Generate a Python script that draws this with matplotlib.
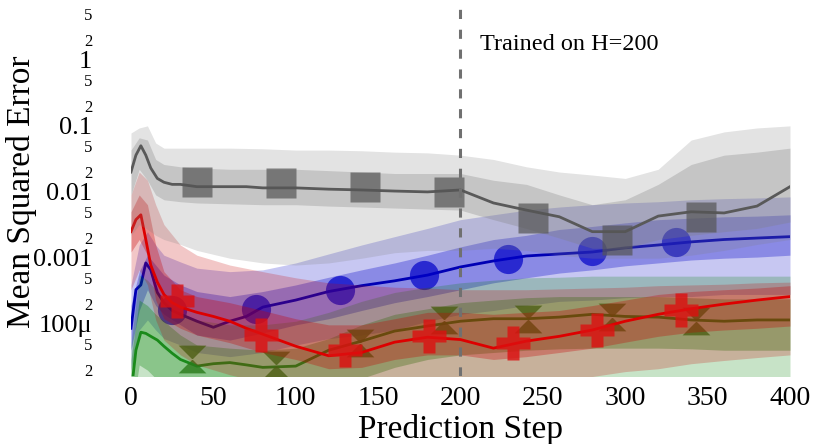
import numpy as np
import matplotlib
matplotlib.use("Agg")
import matplotlib.pyplot as plt
from matplotlib.ticker import FixedLocator, FixedFormatter

plt.rcParams['font.family'] = ['Liberation Serif', 'DejaVu Serif']

STEPS = [0, 3, 6, 9, 12, 16, 20, 25, 30, 40, 50, 60, 70, 80, 100, 120, 140, 160, 180,
         200, 220, 240, 260, 280, 300, 320, 340, 360, 380, 400]
BAND_STEPS = [0, 5, 10, 15, 20, 30, 40, 60, 80, 100, 120, 140, 160, 180, 200, 220, 240,
              260, 280, 300, 320, 340, 360, 380, 400]

# gray series
gray_mean = [0.020, 0.036, 0.050, 0.036, 0.023, 0.016, 0.014, 0.013, 0.013, 0.012, 0.012,
             0.012, 0.012, 0.0115, 0.0115, 0.011, 0.0107, 0.0103, 0.010, 0.0107, 0.0068,
             0.0053, 0.0042, 0.0025, 0.0025, 0.0043, 0.0050, 0.0048, 0.0061, 0.012]
gray_outer_hi = [0.078, 0.093, 0.100, 0.055, 0.046, 0.046, 0.046, 0.046, 0.045, 0.043, 0.043,
                 0.042, 0.040, 0.039, 0.036, 0.031, 0.024, 0.020, 0.018, 0.016, 0.022, 0.061,
                 0.081, 0.093, 0.10]
gray_outer_lo = [0.0022, 0.0032, 0.0027, 0.0022, 0.0019, 0.0016, 0.0013, 0.00099, 0.00084,
                 0.00078, 0.00084, 0.00099, 0.0012, 0.0013, 0.0013, 0.0014, 0.0013, 0.0011,
                 0.00099, 0.00099, 0.00099, 0.0011, 0.0013, 0.0016, 0.0019]
gray_inner_hi = [0.043, 0.066, 0.061, 0.031, 0.026, 0.024, 0.023, 0.022, 0.022, 0.022, 0.021,
                 0.020, 0.019, 0.019, 0.019, 0.015, 0.013, 0.009, 0.0064, 0.0076, 0.013, 0.026,
                 0.036, 0.040, 0.046]
gray_inner_lo = [0.0090, 0.022, 0.015, 0.0090, 0.0076, 0.0071, 0.0068, 0.0066, 0.0064, 0.0064,
                 0.0061, 0.0059, 0.0057, 0.0055, 0.0053, 0.0038, 0.0028, 0.0020, 0.0014, 0.0014,
                 0.0019, 0.0022, 0.0025, 0.0028, 0.0035]
gray_mark_steps = [40, 91, 142, 193, 244, 295, 346]
gray_marks = [0.014, 0.0137, 0.012, 0.010, 0.004, 0.0019, 0.0042]

# blue series
blue_mean = [0.000086, 0.00033, 0.00039, 0.00084, 0.00066, 0.00030, 0.00021, 0.00016, 0.00014,
             0.00011, 0.000089, 0.00011, 0.00013, 0.00018, 0.00023, 0.00031, 0.00038, 0.00045,
             0.00055, 0.00073, 0.00090, 0.00107, 0.00115, 0.00123, 0.00142, 0.00157, 0.00175,
             0.0019, 0.0020, 0.0021]
blue_outer_hi = [0.00039, 0.00157, 0.0025, 0.00157, 0.0011, 0.00087, 0.0007, 0.00062, 0.00066,
                 0.00084, 0.00115, 0.00157, 0.0021, 0.0028, 0.0038, 0.0045, 0.0053, 0.0059,
                 0.0064, 0.0068, 0.0071, 0.0076, 0.0079, 0.0081, 0.0084]
blue_outer_lo = [0.00002, 0.000081, 0.000115, 0.000081, 0.00006, 0.000048, 0.000037, 0.000032,
                 0.000037, 0.000048, 0.00006, 0.000068, 0.000081, 0.00011, 0.00014, 0.00016,
                 0.00019, 0.00022, 0.00023, 0.00025, 0.00026, 0.00026, 0.00028, 0.00028, 0.00028]
blue_inner_hi = [0.00019, 0.00062, 0.0011, 0.00078, 0.00055, 0.00039, 0.00031, 0.00026, 0.00031,
                 0.00039, 0.00051, 0.00066, 0.00084, 0.0011, 0.00147, 0.0019, 0.0022, 0.0027,
                 0.0030, 0.0034, 0.0038, 0.0040, 0.0042, 0.0043, 0.0045]
blue_inner_lo = [0.00004, 0.00016, 0.00033, 0.00019, 0.00014, 0.000097, 0.000068, 0.000057,
                 0.000073, 0.000097, 0.00012, 0.00016, 0.00021, 0.00026, 0.00033, 0.00042,
                 0.0005, 0.00059, 0.00066, 0.00076, 0.00084, 0.00093, 0.00099, 0.00103, 0.0011]
blue_mark_steps = [25, 76, 127, 178, 229, 280, 331]
blue_marks = [0.00016, 0.00017, 0.00033, 0.00055, 0.00097, 0.00128, 0.00175]

# red series
red_mean = [0.0025, 0.0038, 0.0045, 0.0019, 0.00078, 0.00043, 0.00028, 0.00021, 0.00018,
            0.00015, 0.00013, 0.00011, 0.000086, 0.00007, 0.000046, 0.000033, 0.000037,
            0.000053, 0.000063, 0.000058, 0.000043, 0.000055, 0.000065, 0.000081, 0.00011,
            0.00014, 0.00017, 0.0002, 0.00023, 0.00026]
red_outer_hi = [0.009, 0.020, 0.015, 0.0064, 0.0032, 0.00157, 0.0011, 0.00078, 0.00062, 0.0005,
                0.00042, 0.00039, 0.00036, 0.00035, 0.00033, 0.00033, 0.00033, 0.00034, 0.00035,
                0.00036, 0.00038, 0.00039, 0.0004, 0.00042, 0.00043]
red_outer_lo = [0.00033, 0.00066, 0.00039, 0.000115, 0.000057, 0.000034, 0.000024, 0.000017,
                0.000013, 0.00001, 0.0000086, 0.0000093, 0.000011, 0.000012, 0.000013, 0.000012,
                0.000013, 0.000014, 0.000016, 0.000019, 0.000021, 0.000025, 0.000028, 0.000031,
                0.000034]
red_inner_hi = [0.005, 0.009, 0.0064, 0.00157, 0.00062, 0.00033, 0.00026, 0.00021, 0.00016,
                0.00012, 0.000097, 0.000097, 0.00012, 0.00015, 0.00015, 0.00014, 0.00015,
                0.00016, 0.00019, 0.00023, 0.00028, 0.00031, 0.00033, 0.00035, 0.00038]
red_inner_lo = [0.00123, 0.0019, 0.0011, 0.00023, 0.00012, 0.000086, 0.000068, 0.000052,
                0.000037, 0.000029, 0.000021, 0.000022, 0.000029, 0.000034, 0.000034, 0.000029,
                0.000032, 0.000037, 0.000043, 0.000053, 0.000065, 0.000075, 0.000081, 0.000086,
                0.000093]
red_mark_steps = [28, 79, 130, 181, 232, 283, 334]
red_marks = [0.00022, 0.000068, 0.00004, 0.000065, 0.000052, 0.000081, 0.00016]

# green series
green_mean = [0.0000086, 0.00004, 0.000075, 0.000072, 0.000065, 0.000057, 0.000046, 0.000036,
              0.000029, 0.000023, 0.000025, 0.000026, 0.000024, 0.000022, 0.000023, 0.00004,
              0.000055, 0.000078, 0.000093, 0.00011, 0.00012, 0.00012, 0.000127, 0.00014,
              0.00013, 0.000127, 0.000115, 0.00011, 0.000115, 0.000115]
green_outer_hi = [0.000048, 0.00055, 0.00046, 0.00033, 0.00023, 0.00015, 0.000115, 0.000097,
                  0.000097, 0.00011, 0.00015, 0.00022, 0.0003, 0.00036, 0.00042, 0.00046, 0.0005,
                  0.00051, 0.00053, 0.00053, 0.00053, 0.00053, 0.00053, 0.00053, 0.00053]
green_outer_lo = [0.000004, 0.000004, 0.000004, 0.000004, 0.000004, 0.000004, 0.000004,
                  0.000004, 0.000004, 0.000004, 0.000004, 0.000004, 0.000004, 0.000004,
                  0.000004, 0.000004, 0.000004, 0.000004, 0.000004, 0.000004, 0.000004,
                  0.000004, 0.000004, 0.000004, 0.000004]
green_inner_hi = [0.000029, 0.00023, 0.00019, 0.00014, 0.00011, 0.000068, 0.000048, 0.000043,
                  0.00004, 0.000043, 0.00006, 0.000097, 0.00014, 0.00017, 0.00021, 0.00023,
                  0.00025, 0.00026, 0.00026, 0.00026, 0.00026, 0.00025, 0.00024, 0.00024, 0.00024]
green_inner_lo = [0.0000035, 0.000024, 0.00002, 0.000015, 0.000012, 0.0000086, 0.0000072,
                  0.0000066, 0.0000066, 0.0000072, 0.00001, 0.000015, 0.000022, 0.000029,
                  0.000034, 0.000037, 0.00004, 0.000042, 0.000043, 0.000043, 0.000043, 0.000042,
                  0.00004, 0.00004, 0.00004]
green_mark_steps = [37, 88, 139, 190, 241, 292, 343]
green_marks = [0.000029, 0.000024, 0.000052, 0.000115, 0.00012, 0.000127, 0.00011]

X_TICKS = [0, 50, 100, 150, 200, 250, 300, 350, 400]
Y_MAJOR = [1e-4, 1e-3, 1e-2, 1e-1, 1]
Y_MAJOR_LABELS = ['100μ', '0.001', '0.01', '0.1', '1']
Y_MINOR = [2e-5, 5e-5, 2e-4, 5e-4, 2e-3, 5e-3, 2e-2, 5e-2, 0.2, 0.5, 2, 5]
Y_MINOR_LABELS = ['2', '5', '2', '5', '2', '5', '2', '5', '2', '5', '2', '5']

HOURGLASS = [(-1, 1), (1, 1), (-1, -1), (1, -1)]


def draw_series(ax, z, color, band, mean, outer_lo, outer_hi, inner_lo, inner_hi,
                mark_x, mark_y, marker, msize, mcolor, malpha):
    ax.fill_between(BAND_STEPS, outer_lo, outer_hi, color=band, alpha=0.22, lw=0, zorder=z)
    ax.fill_between(BAND_STEPS, inner_lo, inner_hi, color=band, alpha=0.3, lw=0, zorder=z + 0.1)
    ax.plot(STEPS, mean, color=color, lw=2, zorder=z + 0.2)
    ax.plot(mark_x, mark_y, ls='none', marker=marker, ms=msize, color=mcolor,
            alpha=malpha, mec='none', zorder=z + 0.3)


fig = plt.figure(figsize=(8.3, 4.44), dpi=100)
ax = fig.add_axes([0.1578, 0.1532, 0.794, 0.8288])
ax.set_yscale('log')

draw_series(ax, 1, '#0000b4', '#0000c8', blue_mean, blue_outer_lo, blue_outer_hi,
            blue_inner_lo, blue_inner_hi, blue_mark_steps, blue_marks, 'o', 21, '#0000c8', 0.7)
draw_series(ax, 2, '#1a8a1a', '#008000', green_mean, green_outer_lo, green_outer_hi,
            green_inner_lo, green_inner_hi, green_mark_steps, green_marks, HOURGLASS, 20,
            '#2a7a1a', 0.8)
draw_series(ax, 3, '#dd0000', '#c80000', red_mean, red_outer_lo, red_outer_hi,
            red_inner_lo, red_inner_hi, red_mark_steps, red_marks, 'P', 24.5, '#dd1010', 0.8)
draw_series(ax, 4, '#595959', '#808080', gray_mean, gray_outer_lo, gray_outer_hi,
            gray_inner_lo, gray_inner_hi, gray_mark_steps, gray_marks, 's', 21, '#555555', 0.7)

ax.axvline(200, color='#707070', lw=2.2, ls=(0, (3, 3.5)), zorder=10)
ax.text(212, 1.42, 'Trained on H=200', fontsize=17.5, va='baseline', ha='left', zorder=11)

ax.set_xlim(0, 400)
ax.set_ylim(1.63e-5, 6.1)

ax.set_xticks(X_TICKS)
ax.set_xticklabels([str(t) for t in X_TICKS])
ax.yaxis.set_major_locator(FixedLocator(Y_MAJOR))
ax.yaxis.set_major_formatter(FixedFormatter(Y_MAJOR_LABELS))
ax.yaxis.set_minor_locator(FixedLocator(Y_MINOR))
ax.yaxis.set_minor_formatter(FixedFormatter(Y_MINOR_LABELS))
ax.tick_params(axis='x', length=0, pad=7, labelsize=20)
ax.tick_params(axis='y', which='major', length=0, pad=28, labelsize=19)
ax.tick_params(axis='y', which='minor', length=0, pad=28, labelsize=12)
for s in ax.spines.values():
    s.set_visible(False)

fig.text(22 / 830, 1 - 192 / 444, 'Mean Squared Error', rotation=90, fontsize=24,
         ha='center', va='center')
fig.text(460 / 830, 1 - 438 / 444, 'Prediction Step', fontsize=24, ha='center', va='baseline')

fig.savefig('out.png', dpi=100)
